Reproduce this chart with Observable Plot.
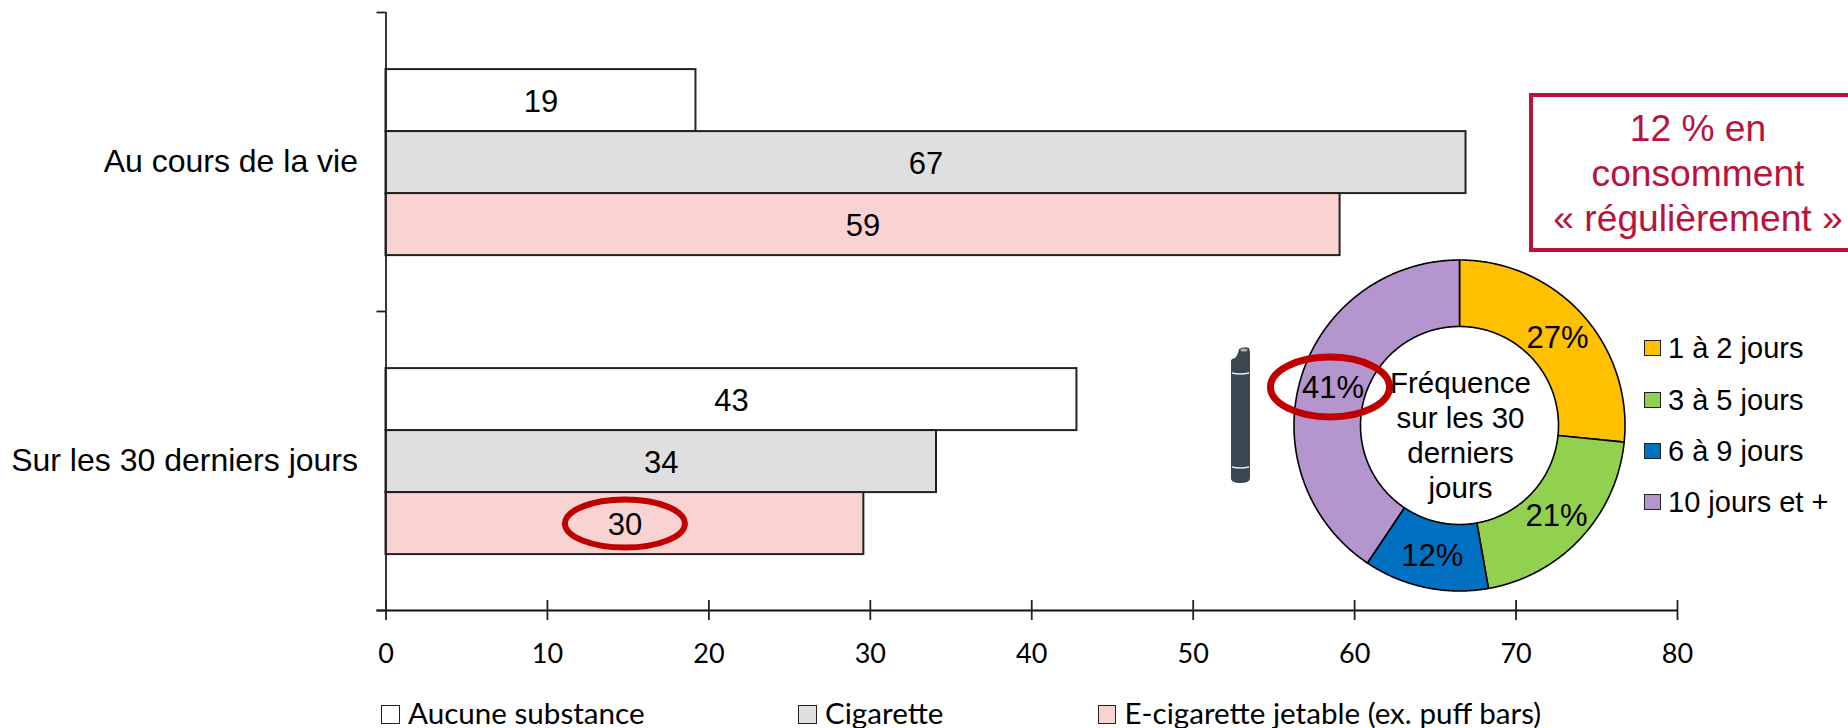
<!DOCTYPE html>
<html lang="fr">
<head>
<meta charset="utf-8">
<title>Consommation</title>
<script src="https://cdn.jsdelivr.net/npm/d3@7"></script>
<script src="https://cdn.jsdelivr.net/npm/@observablehq/plot@0.6"></script>
<style>
  html, body { margin: 0; padding: 0; background: #fff; overflow: hidden; width: 1848px; height: 728px; }
  #stage { position: relative; width: 1848px; height: 728px; }
  #stage > * { position: absolute; }
  svg.plot, #stage svg { background: transparent !important; max-width: none !important; }
  .box { left: 1529px; top: 93px; width: 330px; height: 151px; border: 4px solid #B9133B; box-sizing: content-box; }
  .boxText { left: 1548px; top: 105.5px; width: 300px; text-align: center; color: #B9133B; font: 37.2px/45px "Liberation Sans", sans-serif; }
  .swatch { box-sizing: border-box; border: 1.5px solid #222; }
  .lab { white-space: nowrap; color: #000; }
</style>
</head>
<body>
<div id="stage"></div>
<script>
// ---- data ----
const categories = ["Au cours de la vie", "Sur les 30 derniers jours"];
const seriesNames = ["Aucune substance", "Cigarette", "E-cigarette jetable (ex. puff bars)"];
const seriesColors = ["#ffffff", "#dfdfdf", "#f9d2d2"];
const aucuneValues = [19.2, 42.8];
const cigaretteValues = [66.9, 34.1];
const puffValues = [59.1, 29.6];
const aucuneLabels = ["19", "43"];
const cigaretteLabels = ["67", "34"];
const puffLabels = ["59", "30"];
const xTicks = [0, 10, 20, 30, 40, 50, 60, 70, 80];

const freqNames = ["1 à 2 jours", "3 à 5 jours", "6 à 9 jours", "10 jours et +"];
const freqShares = [26.6, 20.6, 12.2, 40.6];
const freqLabels = ["27%", "21%", "12%", "41%"];
const freqColors = ["#FFC000", "#92D050", "#0070C0", "#B595CE"];
const centerText = "Fréquence\nsur les 30\nderniers\njours";
const calloutLines = "12 % en\nconsomment\n«\u00a0régulièrement\u00a0»";

// ---- helpers ----
const stage = document.getElementById("stage");
const ARIAL = '"Liberation Sans", Arial, sans-serif';
const CALIBRI = 'Lato, "Open Sans", sans-serif';
const RED = "#C00000";
const ellipse = (rx, ry) => ({
  draw(ctx) {
    const k = 0.5523;
    ctx.moveTo(rx, 0);
    ctx.bezierCurveTo(rx, k * ry, k * rx, ry, 0, ry);
    ctx.bezierCurveTo(-k * rx, ry, -rx, k * ry, -rx, 0);
    ctx.bezierCurveTo(-rx, -k * ry, -k * rx, -ry, 0, -ry);
    ctx.bezierCurveTo(k * rx, -ry, rx, -k * ry, rx, 0);
    ctx.closePath();
  }
});
function put(html, cls, left, top, extra = "") {
  const el = document.createElement("div");
  el.className = cls;
  el.style.cssText = `left:${left}px;top:${top}px;${extra}`;
  el.innerHTML = html;
  stage.appendChild(el);
  return el;
}

// ---- bars ----
const barShare = 62 / 299;
const rows = [];
[[aucuneValues, aucuneLabels], [cigaretteValues, cigaretteLabels], [puffValues, puffLabels]].forEach(([vals, labs], s) => {
  vals.forEach((value, c) => {
    const y1 = c + 0.5 - 1.5 * barShare + s * barShare + 0.002;
    rows.push({ category: categories[c], series: seriesNames[s], value, label: labs[c], y1, y2: y1 + barShare, mid: y1 + barShare / 2 });
  });
});
const circled = rows.filter(d => d.category === categories[1] && d.series === seriesNames[2]);

const main = Plot.plot({
  width: 1848, height: 680,
  marginLeft: 385.5, marginRight: 171, marginTop: 12, marginBottom: 70,
  x: { domain: [0, 80], axis: null },
  y: { domain: [0, 2], reverse: true, axis: null },
  color: { domain: seriesNames, range: seriesColors },
  style: { background: "transparent" },
  marks: [
    Plot.rectX(rows, { x1: 0, x2: "value", y1: "y1", y2: "y2", fill: "series", stroke: "#222", strokeWidth: 2 }),
    Plot.ruleX([0], { stroke: "#222", strokeWidth: 1.8 }),
    Plot.ruleY([2], { x1: -0.56, x2: 80, stroke: "#111", strokeWidth: 2.2 }),
    Plot.ruleX(xTicks, { y1: 1.9666, y2: 2.0334, stroke: "#222", strokeWidth: 1.8 }),
    Plot.axisY({ ticks: [0, 1, 2], tickSize: 9, tickFormat: () => "", stroke: "#222", strokeWidth: 1.8, label: null }),
    Plot.axisY({ ticks: [0.5, 1.5], tickSize: 0, tickPadding: 28, tickFormat: v => categories[v - 0.5], fontSize: 32, fontFamily: ARIAL, fill: "#000", label: null }),
    Plot.axisX({ ticks: xTicks, tickSize: 0, tickPadding: 33, tickFormat: d => d, fontSize: 27, fontFamily: CALIBRI, fill: "#000", label: null }),
    Plot.dot(circled, { x: d => d.value / 2, y: "mid", r: 20, symbol: ellipse(60, 24), fill: "none", stroke: RED, strokeWidth: 6 }),
    Plot.text(rows, { x: d => d.value / 2, y: "mid", dy: 1, text: "label", fontSize: 31, fontFamily: ARIAL, fill: "#000" })
  ]
});
main.style.left = "0px"; main.style.top = "0px";
stage.appendChild(main);

// ---- bottom legend ----
[[381, 408], [798, 825], [1097.5, 1124.5]].forEach(([sx, tx], i) => {
  put("", "swatch", sx, 705, `width:18.5px;height:18.5px;background:${seriesColors[i]};`);
  put(seriesNames[i], "lab", tx, 697, `font:29.6px/32px ${CALIBRI};`);
});

// ---- doughnut ----
const total = d3.sum(freqShares);
const outerPx = 165.5, innerRatio = 99 / 165.5, size = 420;
const ext = size / 2 / outerPx;
let acc = 0;
const slicePts = [], labelPts = [];
freqShares.forEach((share, i) => {
  const a0 = acc / total * 2 * Math.PI, a1 = (acc + share) / total * 2 * Math.PI;
  acc += share;
  const steps = d3.range(0, 1.0001, 1 / Math.max(8, Math.ceil((a1 - a0) / 0.008)));
  const outer = steps.map(t => a0 + (a1 - a0) * t);
  outer.forEach(a => slicePts.push({ slice: freqNames[i], x: Math.sin(a), y: Math.cos(a) }));
  outer.slice().reverse().forEach(a => slicePts.push({ slice: freqNames[i], x: innerRatio * Math.sin(a), y: innerRatio * Math.cos(a) }));
  slicePts.push({ slice: freqNames[i], x: Math.sin(a0), y: Math.cos(a0) });
  const am = (a0 + a1) / 2, rm = (1 + innerRatio) / 2;
  labelPts.push({ slice: freqNames[i], label: freqLabels[i], x: rm * Math.sin(am), y: rm * Math.cos(am) });
});
const donut = Plot.plot({
  width: size, height: size, margin: 0,
  x: { domain: [-ext, ext], axis: null },
  y: { domain: [-ext, ext], axis: null },
  color: { domain: freqNames, range: freqColors },
  style: { background: "transparent" },
  marks: [
    Plot.line(slicePts, { x: "x", y: "y", z: "slice", fill: "slice", stroke: "#000", strokeWidth: 1.6, curve: "linear" }),
    Plot.dot(labelPts.filter(d => d.label === "41%"), { x: "x", y: "y", dx: -3, r: 20, symbol: ellipse(59.5, 30), fill: "none", stroke: RED, strokeWidth: 7 }),
    Plot.text(labelPts, { x: "x", y: "y", dy: 1, text: "label", fontSize: 31, fontFamily: ARIAL, fill: "#000" }),
    Plot.text([centerText], { x: 0, y: 0, dx: 1, dy: 8.5, text: d => d, fontSize: 29.5, lineHeight: 1.19, fontFamily: ARIAL, fill: "#000" })
  ]
});
donut.style.left = (1459 - size / 2) + "px";
donut.style.top = (424.5 - size / 2) + "px";
stage.appendChild(donut);

// ---- doughnut legend ----
[340, 392, 443, 494].forEach((y, i) => {
  put("", "swatch", 1644, y, `width:17px;height:16px;background:${freqColors[i]};`);
  put(freqNames[i], "lab", 1668, y - 9, `font:29px/34px ${ARIAL};`);
});

// ---- callout ----
put("", "box", 1529, 93);
put(calloutLines.split("\n").join("<br>"), "boxText", 1548, 105.5);

// ---- device icon ----
const icon = d3.create("svg").attr("width", 30).attr("height", 145).attr("viewBox", "1226 344 30 145")
  .style("left", "1226px").style("top", "344px");
icon.append("path").attr("fill", "#3A4750")
  .attr("d", "M1239 349 Q1244 346 1249 348 L1250 352 L1250 479 Q1249 483 1240 483 Q1232 483 1231 479 L1231 361 Q1231 359 1235 358 Q1238 355 1239 349 Z");
icon.append("path").attr("fill", "none").attr("stroke", "#e8ecee").attr("stroke-width", 1.3).attr("d", "M1232 373 Q1240 375 1249 373 M1232 467 Q1240 469 1249 467");
icon.append("ellipse").attr("cx", 1244).attr("cy", 350).attr("rx", 3.5).attr("ry", 1.6).attr("fill", "#aab2b7");
stage.appendChild(icon.node());
</script>
</body>
</html>
